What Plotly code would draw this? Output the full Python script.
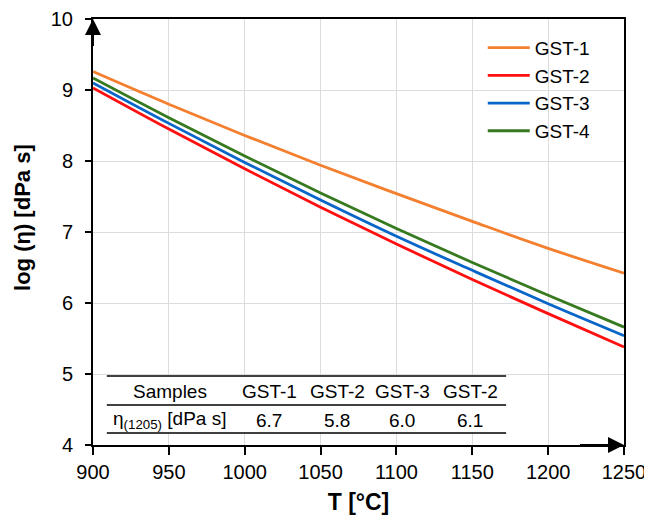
import plotly.graph_objects as go

# ---- data ----
temps = [900, 950, 1000, 1050, 1100, 1150, 1200, 1250]
gst1 = [9.26, 8.80, 8.36, 7.94, 7.54, 7.15, 6.77, 6.42]
gst2 = [9.03, 8.45, 7.89, 7.35, 6.83, 6.33, 5.85, 5.38]
gst3 = [9.10, 8.53, 7.98, 7.45, 6.94, 6.46, 5.99, 5.54]
gst4 = [9.17, 8.61, 8.07, 7.55, 7.05, 6.57, 6.11, 5.66]
series_names = ["GST-1", "GST-2", "GST-3", "GST-4"]
series_values = [gst1, gst2, gst3, gst4]
colors = ["#F47F2F", "#FF1010", "#0866C8", "#36791F"]

table_header = ["Samples", "GST-1", "GST-2", "GST-3", "GST-2"]
table_row = ["η<sub>(1205)</sub> [dPa s]", "6.7", "5.8", "6.0", "6.1"]

x_ticks = [900, 950, 1000, 1050, 1100, 1150, 1200, 1250]
y_ticks = [4, 5, 6, 7, 8, 9, 10]

FONT = "Liberation Sans, Arial, sans-serif"

fig = go.Figure()
for name, vals, col in zip(series_names, series_values, colors):
    fig.add_trace(go.Scatter(x=temps, y=vals, mode="lines", name=name,
                             line=dict(color=col, width=2.8, shape="spline")))

# table (white box + rules + text)
col_x = [0.145, 0.332, 0.460, 0.582, 0.710]
row_y = [0.125, 0.058]
shapes = [
    dict(type="rect", xref="x domain", yref="y domain", x0=0.024, x1=0.78, y0=0.03, y1=0.16,
         fillcolor="white", line=dict(width=0, color="white"), layer="above"),
    # top frame line slightly overhanging the y axis
    dict(type="line", xref="x domain", yref="y domain", x0=-0.013, x1=0, y0=1, y1=1,
         line=dict(color="black", width=2), layer="above"),
]
for yy in [0.162, 0.094, 0.028]:
    shapes.append(dict(type="line", xref="x domain", yref="y domain", x0=0.026, x1=0.778,
                       y0=yy, y1=yy, line=dict(color="black", width=1.6), layer="above"))

annotations = []
for cx, txt in zip(col_x, table_header):
    annotations.append(dict(x=cx, y=row_y[0], xref="paper", yref="paper", text=txt,
                            xanchor="center", yanchor="middle",
                            showarrow=False, font=dict(size=19, color="black", family=FONT)))
for cx, txt in zip(col_x, table_row):
    annotations.append(dict(x=cx, y=row_y[1], xref="paper", yref="paper", text=txt,
                            xanchor="center", yanchor="middle",
                            showarrow=False, font=dict(size=19, color="black", family=FONT)))

# y axis title as rotated text
annotations.append(dict(x=-0.134, y=0.535, xref="paper", yref="paper",
                        text="<b>log (η) [dPa s]</b>", textangle=-90, showarrow=False,
                        xanchor="center", yanchor="middle",
                        font=dict(size=22, family=FONT, color="black")))

# axis arrows
annotations.append(dict(x=900, y=10, ax=900, ay=9.6, xref="x", yref="y", axref="x", ayref="y",
                        text="", showarrow=True, arrowhead=2, arrowsize=1.6, arrowwidth=2,
                        arrowcolor="black", standoff=0))
annotations.append(dict(x=1250, y=4, ax=1220, ay=4, xref="x", yref="y", axref="x", ayref="y",
                        text="", showarrow=True, arrowhead=2, arrowsize=1.6, arrowwidth=2,
                        arrowcolor="black", standoff=0))

# the page body adds an 8 px offset at top/left, so the figure is 8 px smaller
fig.update_layout(
    width=644, height=514,
    margin=dict(l=85, r=28, t=11, b=77),
    paper_bgcolor="white", plot_bgcolor="white",
    font=dict(family=FONT, color="black", size=20),
    showlegend=True,
    legend=dict(x=0.734, y=0.977, xanchor="left", yanchor="top",
                font=dict(size=19, family=FONT, color="black"),
                itemwidth=42,
                bgcolor="rgba(0,0,0,0)", borderwidth=0, tracegroupgap=0),
    shapes=shapes,
    annotations=annotations,
)
fig.update_xaxes(range=[900, 1250], tickvals=x_ticks, ticktext=[str(v) for v in x_ticks],
                 automargin=False,
                 showgrid=True, gridcolor="#dcdcdc", gridwidth=1,
                 showline=True, linecolor="black", linewidth=2, mirror=True,
                 ticks="outside", ticklen=8, tickwidth=2, tickcolor="black",
                 tickfont=dict(size=20, family=FONT, color="black"),
                 title=dict(text="<b>T [°C]</b>", font=dict(size=23, family=FONT, color="black"),
                            standoff=12),
                 zeroline=False)
fig.update_yaxes(range=[4, 10], tickvals=y_ticks,
                 automargin=False,
                 showgrid=True, gridcolor="#dcdcdc", gridwidth=1,
                 showline=True, linecolor="black", linewidth=2, mirror=True,
                 ticks="outside", ticklen=6, tickwidth=2, tickcolor="black",
                 ticklabelstandoff=8,
                 tickfont=dict(size=20, family=FONT, color="black"),
                 zeroline=False)

fig.write_html("out.html")
